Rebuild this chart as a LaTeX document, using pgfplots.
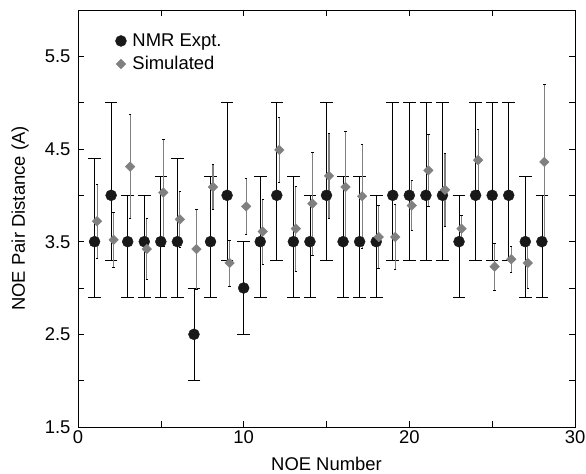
\documentclass[border=0pt]{standalone}
\usepackage{fontspec}
\setmainfont{Liberation Sans}
\usepackage{pgfplots}
\pgfplotsset{compat=1.18}
\definecolor{simgray}{RGB}{128,128,128}
\definecolor{exptblack}{RGB}{25,25,25}

\begin{document}
\begin{tikzpicture}
\begin{axis}[
  scale only axis, width=497bp, height=417bp,
  xmin=0, xmax=30, ymin=1.5, ymax=6.0,
  xtick={0,10,20,30}, minor xtick={5,15,25},
  ytick={1.5,2.5,3.5,4.5,5.5}, minor ytick={2,3,4,5},
  /pgf/number format/assume math mode=true,
  tick align=inside, major tick length=6bp, minor tick length=6bp,
  every tick/.style={black, line width=0.6pt},
  axis line style={line width=0.8pt},
  tick label style={font=\fontsize{18.5}{21}\selectfont},
  yticklabel style={xshift=-4bp, /pgf/number format/.cd, fixed, fixed zerofill, precision=1},
  every axis x label/.style={at={(axis description cs:0.5,0)}, anchor=center, yshift=-37bp,
    font=\fontsize{18.5}{21}\selectfont},
  every axis y label/.style={at={(axis description cs:0,0.5)}, anchor=center, rotate=90, yshift=58bp,
    font=\fontsize{18.5}{21}\selectfont},
  xlabel={NOE Number}, ylabel={NOE Pair Distance (A)},
  legend style={draw=none, fill=none, at={(0.075,0.948)}, anchor=north west,
    font=\fontsize{18.5}{21}\selectfont, row sep=4.5bp, inner sep=0bp,
    /tikz/every odd column/.append style={column sep=4bp}},
  legend cell align=left,
  legend image code/.code={\draw[#1] plot[only marks] coordinates {(0bp,0bp)};},
]
% NMR experiment, asymmetric bounds
\addplot[only marks, mark=*, mark size=5.5bp, exptblack,
  error bars/.cd, y dir=both, y explicit,
  error mark=-, error mark options={rotate=90, black, mark size=6.3bp, line width=0.7pt},
  error bar style={black, line width=0.7pt}]
  coordinates {
  (1,3.5) += (0,0.9) -= (0,0.6)
  (2,4.0) += (0,1.0) -= (0,0.7)
  (3,3.5) += (0,0.5) -= (0,0.6)
  (4,3.5) += (0,0.5) -= (0,0.6)
  (5,3.5) += (0,0.7) -= (0,0.6)
  (6,3.5) += (0,0.9) -= (0,0.6)
  (7,2.5) += (0,0.5) -= (0,0.5)
  (8,3.5) += (0,0.7) -= (0,0.6)
  (9,4.0) += (0,1.0) -= (0,0.7)
  (10,3.0) += (0,0.5) -= (0,0.5)
  (11,3.5) += (0,0.7) -= (0,0.6)
  (12,4.0) += (0,1.0) -= (0,0.7)
  (13,3.5) += (0,0.7) -= (0,0.6)
  (14,3.5) += (0,0.5) -= (0,0.6)
  (15,4.0) += (0,1.0) -= (0,0.7)
  (16,3.5) += (0,0.7) -= (0,0.6)
  (17,3.5) += (0,0.7) -= (0,0.6)
  (18,3.5) += (0,0.5) -= (0,0.6)
  (19,4.0) += (0,1.0) -= (0,0.7)
  (20,4.0) += (0,1.0) -= (0,0.7)
  (21,4.0) += (0,1.0) -= (0,0.7)
  (22,4.0) += (0,1.0) -= (0,0.7)
  (23,3.5) += (0,0.5) -= (0,0.6)
  (24,4.0) += (0,1.0) -= (0,0.7)
  (25,4.0) += (0,1.0) -= (0,0.7)
  (26,4.0) += (0,1.0) -= (0,0.7)
  (27,3.5) += (0,0.7) -= (0,0.6)
  (28,3.5) += (0,0.5) -= (0,0.6)
  };
\addlegendentry{NMR Expt.}
% simulated
\addplot[only marks, mark=square*, mark size=3.4bp, simgray,
  mark options={simgray, rotate=45},
  error bars/.cd, y dir=both, y explicit,
  error mark=-, error mark options={rotate=90, black, mark size=1.2bp, line width=0.5pt},
  error bar style={simgray, line width=1.1pt}]
  coordinates {
  (1.15,3.72) +- (0,0.40)
  (2.15,3.52) +- (0,0.30)
  (3.15,4.31) +- (0,0.56)
  (4.15,3.42) +- (0,0.33)
  (5.15,4.03) +- (0,0.58)
  (6.15,3.74) +- (0,0.30)
  (7.15,3.42) +- (0,0.43)
  (8.15,4.09) +- (0,0.24)
  (9.15,3.27) +- (0,0.25)
  (10.15,3.88) +- (0,0.30)
  (11.15,3.61) +- (0,0.35)
  (12.15,4.49) +- (0,0.35)
  (13.15,3.64) +- (0,0.46)
  (14.15,3.91) +- (0,0.56)
  (15.15,4.21) +- (0,0.46)
  (16.15,4.09) +- (0,0.60)
  (17.15,3.99) +- (0,0.56)
  (18.15,3.55) +- (0,0.34)
  (19.15,3.55) +- (0,0.35)
  (20.15,3.89) +- (0,0.27)
  (21.15,4.27) +- (0,0.39)
  (22.15,4.06) +- (0,0.39)
  (23.15,3.64) +- (0,0.14)
  (24.15,4.38) +- (0,0.33)
  (25.15,3.23) +- (0,0.25)
  (26.15,3.31) +- (0,0.14)
  (27.15,3.27) +- (0,0.27)
  (28.15,4.36) +- (0,0.84)
  };
\addlegendentry{Simulated}
\end{axis}
\pgfresetboundingbox
\path[use as bounding box] (current axis.south west) ++(-78bp,-47bp) rectangle ([shift={(11bp,10bp)}]current axis.north east);
\end{tikzpicture}
\end{document}
